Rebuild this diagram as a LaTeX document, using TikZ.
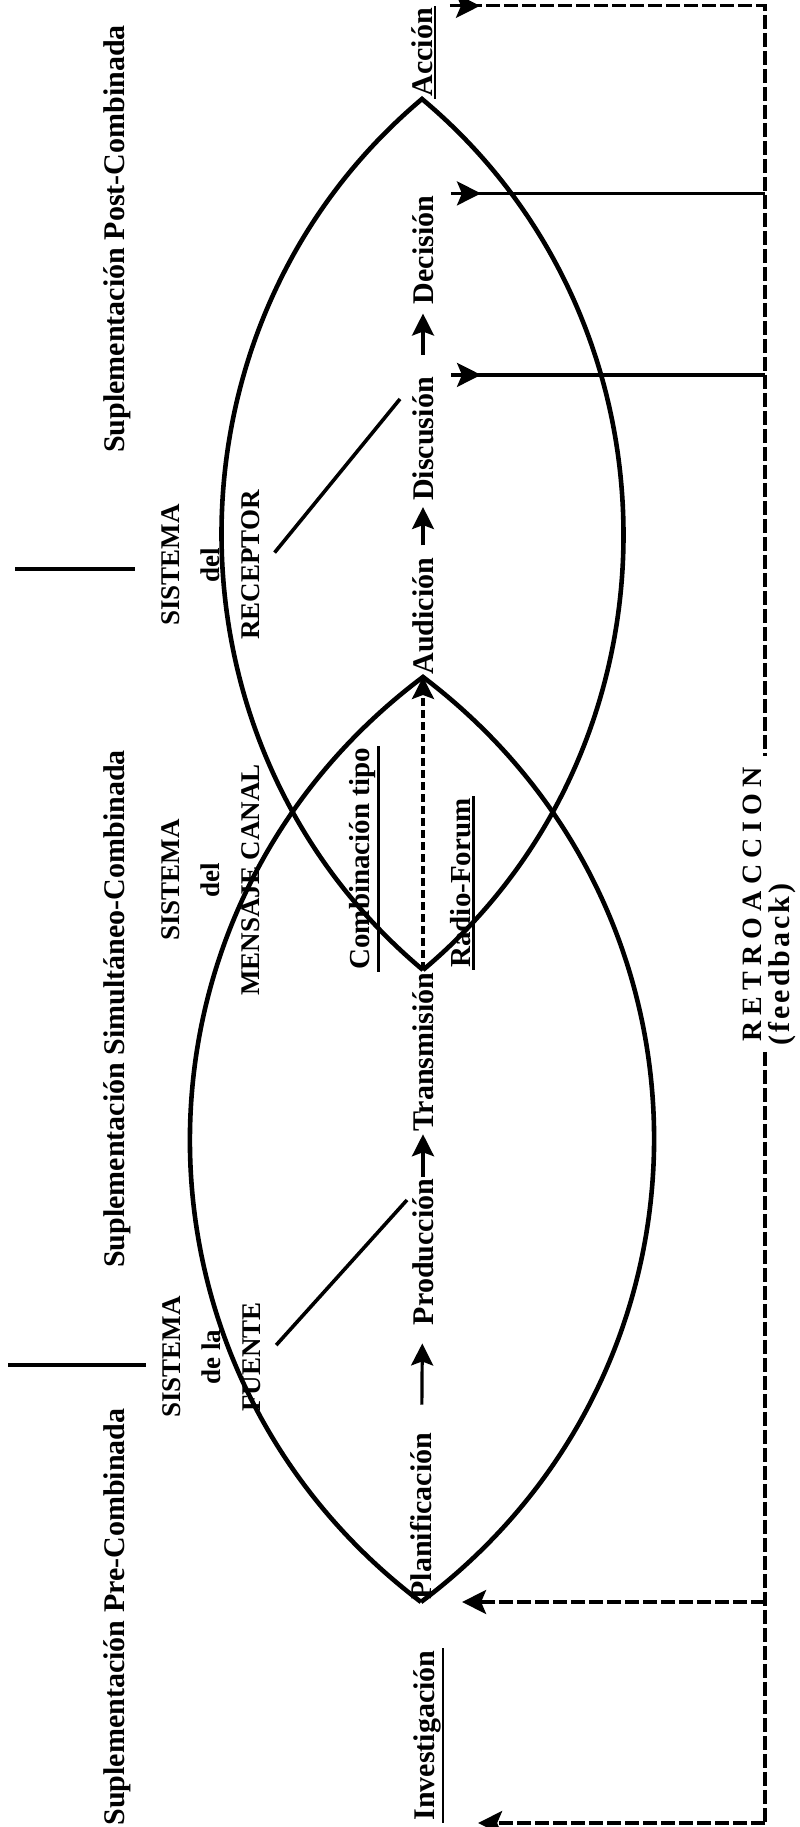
\documentclass[tikz,border=0pt]{standalone}
\usepackage{fontspec}
\setmainfont{Liberation Serif}
\usetikzlibrary{arrows.meta, positioning, calc, decorations.markings}

\begin{document}
\begin{tikzpicture}[x=0.5pt, y=0.5pt,
    lens/.style={line width=2.3pt},
    heading/.style={rotate=90, font=\fontsize{15}{18}\selectfont\bfseries, inner sep=1pt},
    sysbox/.style={rotate=90, align=center, font=\fontsize{13.5}{20}\selectfont\bfseries, inner sep=2pt},
    stage/.style={rotate=90, font=\fontsize{15}{18}\selectfont\bfseries, inner sep=1pt},
    combo/.style={rotate=90, anchor=west, font=\fontsize{14.5}{17}\selectfont\bfseries, inner sep=1pt},
    uline/.style={line width=1.3pt},
    pointer/.style={line width=1.8pt},
    stagearrow/.style={line width=1.6pt, -{Stealth[length=11pt, width=11pt, inset=2pt]}},
    fbline/.style={line width=1.6pt, dash pattern=on 7pt off 2pt},
    fbout/.style={line width=1.6pt, postaction={decorate},
        decoration={markings, mark=at position 15pt with {\arrow{Stealth[length=12pt, width=12pt, inset=2.5pt]}}}},
    fbin/.style={-{Stealth[length=12pt, width=12pt, inset=2.5pt]}}]

    \fill[white] (0,0) rectangle (799,1827);
    \useasboundingbox (0,0) rectangle (799,1827);

    % headings
    \node[heading] (pre) at (117,210) {Suplementación Pre-Combinada};
    \node[heading] (simul) at (117,818) {Suplementación Simultáneo-Combinada};
    \node[heading] (post) at (117,1588) {Suplementación Post-Combinada};
    \draw[line width=2pt] (8,462) -- (146,462);
    \draw[line width=2pt] (15,1258) -- (135,1258);

    % systems
    \node[sysbox] (fuente) at (212,470) {SISTEMA\\de la\\FUENTE};
    \node[sysbox] (mensaje) at (211,947) {SISTEMA\\del\\MENSAJE CANAL};
    \node[sysbox] (receptor) at (211,1262) {SISTEMA\\del\\RECEPTOR};

    % stages
    \node[stage, anchor=west] (plan) at (421,225) {Planificación};
    \node[stage] (prod) at (423,575) {Producción};
    \node[stage, anchor=east] (trans) at (423,857) {Transmisión};
    \node[stage, anchor=west] (aud) at (423,1150) {Audición};
    \node[stage] (disc) at (423,1388) {Discusión};
    \node[stage] (dec) at (423,1577) {Decisión};
    \node[stage, anchor=west] (acc) at (422,1728) {Acción};
    \node[stage, anchor=west] (inv) at (427,4) {Investigación};

    \node[combo] (comb) at (363,855) {Combinación tipo};
    \node[combo] (radio) at (461,857) {Radio-Forum};

    % the two systems
    \draw[lens] (plan.west) to[bend left=53, looseness=1.07] (aud.west)
        to[bend left=53, looseness=1.07] (plan.west);
    \draw[lens] (trans.east) to[bend left=50, looseness=1.03] (acc.west)
        to[bend left=50, looseness=1.03] (trans.east);

    \draw[stagearrow, shorten <=13pt, shorten >=8pt] (plan) -- (prod);
    \draw[stagearrow] (prod) -- (trans);
    \draw[line width=1.6pt, dash pattern=on 4pt off 2pt, -{Stealth[length=11pt, width=11pt, inset=2pt]}] (trans.east) -- (aud.west);
    \draw[stagearrow, shorten <=5pt, shorten >=2pt] (aud) -- (disc);
    \draw[stagearrow, shorten <=10pt, shorten >=3.5pt] (disc) -- (dec);

    \draw[uline] (comb.south west) -- (comb.south east);
    \draw[uline] (radio.south west) -- (radio.south east);
    \draw[uline] (acc.south west) -- (acc.south east);
    \draw[uline] (inv.south west) -- (inv.south east);

    \coordinate (fuentetip) at (407,627);
    \coordinate (receptortip) at (400,1428);
    \draw[pointer, shorten <=8pt] (fuente.south) -- (fuentetip);
    \draw[pointer, shorten <=8pt] (receptor.south) -- (receptortip);

    % feedback
    \coordinate (fbx) at (765,0);
    \node[rotate=90, anchor=west, inner sep=5pt,
        font=\fontsize{14}{16}\selectfont\bfseries\addfontfeature{LetterSpace=22}] (retro) at (752,775) {RETROACCION};
    \node[rotate=90, anchor=west, inner sep=2pt,
        font=\fontsize{15}{17}\selectfont\bfseries\addfontfeature{LetterSpace=10}] (feedbk) at (782,777) {(feedback)};

    \draw[fbline, fbout] ($(acc.south east)+(15,0)$) -- (acc.south east -| fbx) -- (fbx |- retro.east);
    \draw[fbout] ($(dec.south east)+(15,0)$) -- (dec.south east -| fbx);
    \draw[fbout] ($(disc.south east)+(15,0)$) -- (disc.south east -| fbx);
    \draw[fbline] (fbx |- retro.west) -- (inv.south west -| fbx);
    \draw[fbline, fbin] (plan.south west -| fbx) -- ($(plan.south west)+(28,0)$);
    \draw[fbline, fbin] (inv.south west -| fbx) -- ($(inv.south west)+(35,0)$);
\end{tikzpicture}
\end{document}
